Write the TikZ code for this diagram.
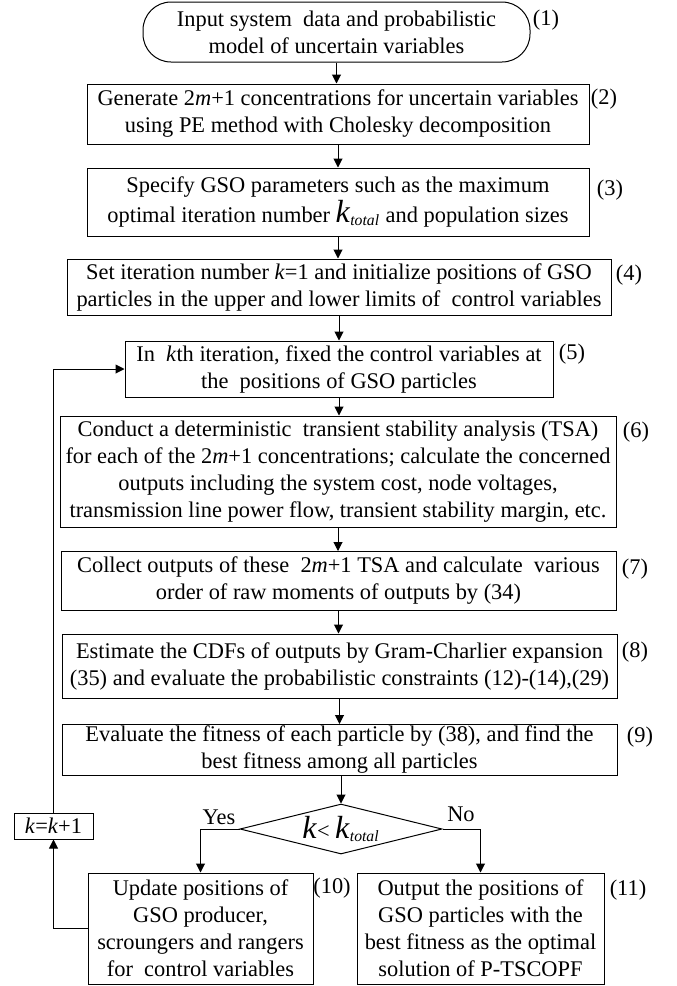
\documentclass[tikz,border=0pt]{standalone}
\usepackage{fontspec}
\setmainfont{Liberation Serif}
\usetikzlibrary{shapes.geometric, arrows.meta, positioning}

\newcommand{\kbig}{{\fontsize{16}{16}\selectfont\textit{k}}}
\newcommand{\ktotal}{\kbig\textsubscript{\textit{total}}}

\begin{document}
\begin{tikzpicture}[x=0.5pt, y=-0.5pt, >={Triangle[length=4.5pt,width=4.5pt]},
    font=\fontsize{11.2}{13.5}\selectfont, line width=0.5pt]
  \useasboundingbox (0,0) rectangle (676,986);

  % Set the node styles
  \tikzset{procbox/.style={draw, rectangle, align=center, inner sep=0pt},
           startbox/.style={procbox, rounded corners=14pt},
           decbox/.style={draw, diamond, aspect=4, inner sep=0pt,
                          minimum width=101pt, minimum height=25pt},
           steplabel/.style={inner sep=0pt}}

  % Draw the flow chart boxes
  \node[startbox, minimum width=193.5pt, minimum height=30pt] (b1) at (336.5,32)
    {Input system \ data and probabilistic\\model of uncertain variables};
  \node[procbox, minimum width=251pt, minimum height=30pt] (b2) at (338,114)
    {Generate 2\textit{m}+1 concentrations for uncertain variables\\using PE method with Cholesky decomposition};
  \node[procbox, minimum width=251pt, minimum height=34pt] (b3) at (338,202)
    {Specify GSO parameters such as the maximum\\optimal iteration number \ktotal{} and population sizes};
  \node[procbox, minimum width=272pt, minimum height=28pt] (b4) at (339,287)
    {Set iteration number \textit{k}=1 and initialize positions of GSO\\particles in the upper and lower limits of \ control variables};
  \node[procbox, minimum width=214pt, minimum height=28pt] (b5) at (339,369)
    {In \ \textit{k}th iteration, fixed the control variables at\\the \ positions of GSO particles};
  \node[procbox, minimum width=278pt, minimum height=55.5pt] (b6) at (338,471.5)
    {Conduct a deterministic \ transient stability analysis (TSA)\\for each of the 2\textit{m}+1 concentrations; calculate the concerned\\outputs including the system cost, node voltages,\\transmission line power flow, transient stability margin, etc.};
  \node[procbox, minimum width=277.5pt, minimum height=29.5pt] (b7) at (338.5,581)
    {Collect outputs of these \ 2\textit{m}+1 TSA and calculate \ various\\order of raw moments of outputs by (34)};
  \node[procbox, minimum width=277.5pt, minimum height=32pt] (b8) at (339.5,666)
    {Estimate the CDFs of outputs by Gram-Charlier expansion\\(35) and evaluate the probabilistic constraints (12)-(14),(29)};
  \node[procbox, minimum width=277.5pt, minimum height=25.5pt] (b9) at (339.5,750)
    {Evaluate the fitness of each particle by (38), and find the\\best fitness among all particles};
  \node[decbox] (dec) at (341,829) {\kbig< \ktotal};
  \node[procbox, minimum width=39.5pt, minimum height=13pt] (kk) at (53.5,826)
    {\textit{k}=\textit{k}+1};
  \node[procbox, minimum width=112.5pt, minimum height=55.5pt] (b10) at (200.5,928.5)
    {Update positions of\\GSO producer,\\scroungers and rangers\\for \ control variables};
  \node[procbox, minimum width=123.5pt, minimum height=55.5pt] (b11) at (480.5,928.5)
    {Output the positions of\\GSO particles with the\\best fitness as the optimal\\solution of P-TSCOPF};

  % Step numbers
  \foreach \n/\x/\y in {1/546/20, 2/604/99, 3/610/190, 4/629/275, 5/572/354, 6/636/432,
                        7/635/569, 8/635/652, 9/640/737, 10/332/888, 11/628/890}{
    \node[steplabel] (l\n) at (\x,\y) {(\n)};
  }
  \node[steplabel] (yes) at (219,817) {Yes};
  \node[steplabel] (no) at (461,814) {No};

  % Connect the boxes
  \foreach \a/\b in {b1/b2, b2/b3, b3/b4, b4/b5, b5/b6, b6/b7, b7/b8, b8/b9}{
    \draw[->] (\a.south) -- (\a.south |- \b.north);
  }
  \draw[->] (b9.south -| dec.north) -- (dec.north);
  \draw[->] (dec.west) -| (b10.north);
  \draw[->] (dec.east) -| (b11.north);
  \draw[->] (b10.west) -| (kk.south);
  \draw[->] (kk.north) |- (b5.west);
\end{tikzpicture}
\end{document}
